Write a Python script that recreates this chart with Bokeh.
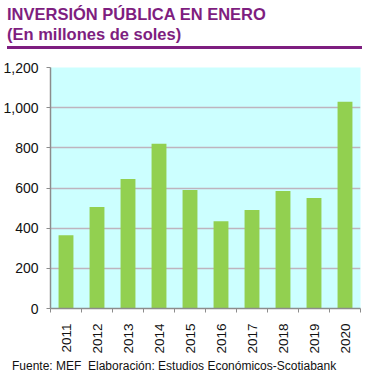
import math
from bokeh.plotting import figure
from bokeh.models import FixedTicker, Div, Range1d, NumeralTickFormatter
from bokeh.layouts import column
from bokeh.embed import file_html
from bokeh.resources import INLINE

years = ["2011", "2012", "2013", "2014", "2015", "2016", "2017", "2018", "2019", "2020"]
values = [365, 505, 645, 820, 590, 435, 490, 585, 550, 1030]
y_ticks = [0, 200, 400, 600, 800, 1000, 1200]

title_line1 = "INVERSIÓN PÚBLICA EN ENERO"
title_line2 = "(En millones de soles)"
footer_text = "Fuente: MEF&nbsp;&nbsp;Elaboración: Estudios Económicos-Scotiabank"

PURPLE = "#7E1E80"
FONT = "Liberation Sans"

xs = list(range(len(years)))

title_div = Div(
    text=(f'<div style="box-sizing:border-box; font-family:\'{FONT}\'; font-weight:bold; color:{PURPLE}; '
          f'font-size:16.5px; line-height:19.5px; padding-top:5px; width:355px; height:49px; '
          f'border-bottom:3.5px solid {PURPLE}; margin-left:7px;">'
          f'{title_line1}<br>{title_line2}</div>'),
    width=365, height=49, margin=0,
)

p = figure(width=361, height=309, output_backend="svg", toolbar_location=None,
           x_range=Range1d(-0.5, len(years) - 0.5), y_range=Range1d(0, 1200),
           min_border_left=49, min_border_right=1, min_border_top=18, min_border_bottom=50,
           margin=0)
p.outline_line_color = None
p.background_fill_color = "#CCFFFF"
p.border_fill_color = "white"

p.vbar(x=xs, top=values, width=0.48, color="#92D050", line_color=None)

p.xgrid.visible = False
p.ygrid.grid_line_color = "#BEB4BE"
p.ygrid.grid_line_width = 1.5
p.ygrid.ticker = FixedTicker(ticks=y_ticks)

p.yaxis.ticker = FixedTicker(ticks=y_ticks)
p.yaxis.formatter = NumeralTickFormatter(format="0,0")
p.yaxis.axis_line_color = "#8C8C8C"
p.yaxis.axis_line_width = 1.5
p.yaxis.major_tick_line_color = "#8C8C8C"
p.yaxis.major_tick_out = 4
p.yaxis.major_tick_in = 0
p.yaxis.minor_tick_line_color = None
p.yaxis.major_label_text_font = FONT
p.yaxis.major_label_text_font_size = "14px"
p.yaxis.major_label_text_color = "#111111"
p.yaxis.major_label_standoff = 8

p.xaxis.ticker = FixedTicker(ticks=xs, minor_ticks=[i - 0.5 for i in range(len(years) + 1)])
p.xaxis.major_label_overrides = {i: y for i, y in zip(xs, years)}
p.xaxis.major_label_orientation = math.pi / 2
p.xaxis.major_tick_line_color = None
p.xaxis.minor_tick_line_color = "#8C8C8C"
p.xaxis.minor_tick_out = 4
p.xaxis.minor_tick_in = 0
p.xaxis.axis_line_color = "#8C8C8C"
p.xaxis.axis_line_width = 1.5
p.xaxis.major_label_text_font = FONT
p.xaxis.major_label_text_font_size = "13.5px"
p.xaxis.major_label_text_color = "#111111"
p.xaxis.major_label_standoff = 9

footer_div = Div(
    text=(f'<div style="font-family:\'{FONT}\'; font-size:12px; color:#111111; '
          f'padding-top:0px; margin-left:12px; white-space:nowrap;">{footer_text}</div>'),
    width=361, height=20, margin=0,
)

layout = column(title_div, p, footer_div, spacing=0, margin=0)
open("out.html", "w").write(file_html(layout, INLINE))
